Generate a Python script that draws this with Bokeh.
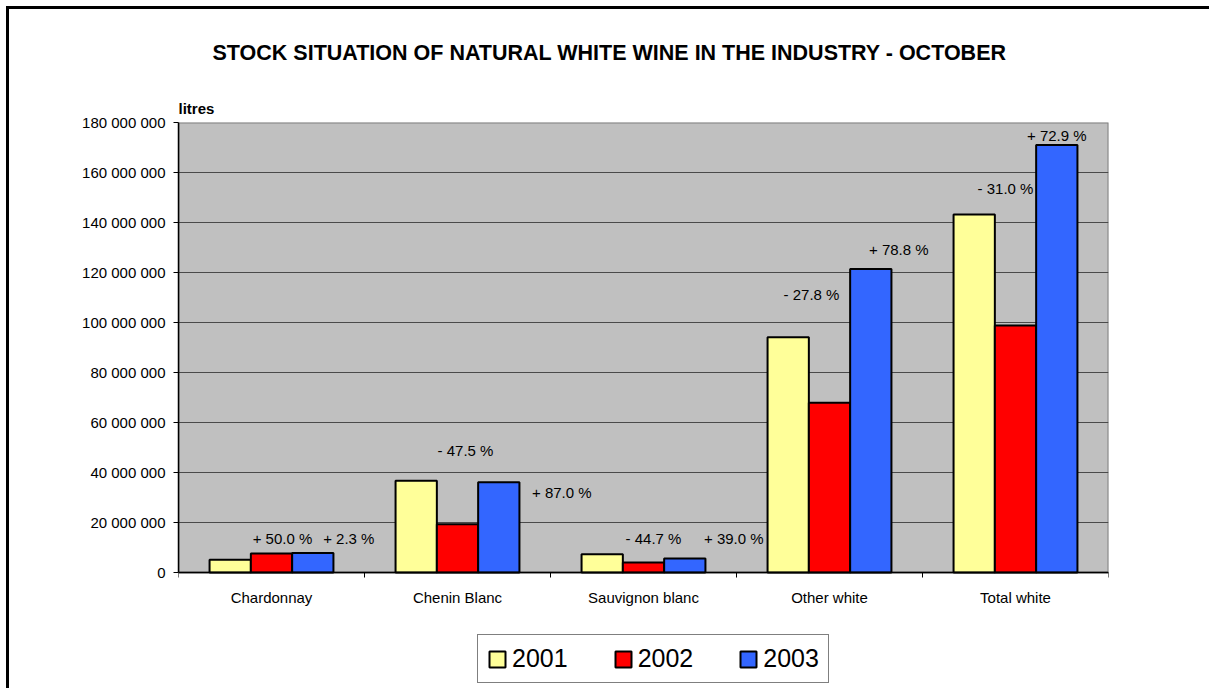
from bokeh.plotting import figure
from bokeh.models import Range1d, FixedTicker, Legend, LegendItem, ColumnDataSource, Title
from bokeh.core.properties import value
from bokeh.embed import file_html
from bokeh.resources import INLINE

# ---- data ----
categories = ["Chardonnay", "Chenin Blanc", "Sauvignon blanc", "Other white", "Total white"]
years = ["2001", "2002", "2003"]
v2001 = [5.1e6, 36.7e6, 7.3e6, 94.1e6, 143.2e6]
v2002 = [7.65e6, 19.3e6, 4.0e6, 67.9e6, 98.8e6]
v2003 = [7.8e6, 36.1e6, 5.6e6, 121.4e6, 171.0e6]
pct_2002 = ["+ 50.0 %", "- 47.5 %", "- 44.7 %", "- 27.8 %", "- 31.0 %"]
pct_2003 = ["+ 2.3 %", "+ 87.0 %", "+ 39.0 %", "+ 78.8 %", "+ 72.9 %"]
y_ticks = [0, 20e6, 40e6, 60e6, 80e6, 100e6, 120e6, 140e6, 160e6, 180e6]
y_tick_labels = ["0", "20 000 000", "40 000 000", "60 000 000", "80 000 000", "100 000 000",
                 "120 000 000", "140 000 000", "160 000 000", "180 000 000"]
y_max = 180e6

# ---- styles / layout ----
colors = ["#FFFF99", "#FF0000", "#3366FF"]
FONT = "Liberation Sans"
bar_w = 0.222
offsets = [-bar_w, 0.0, bar_w]
dx2002 = [11, 8, 10, -18, -10]
dy2002 = [-15, -74, -24, -108, -137]
dx2003 = [36, 63, 49, 28, 0]
dy2003 = [-15, 10, -20, -20, -10]

PLOT_W = 930          # px width of the grey plot area
PLOT_H = 450          # px height of the grey plot area (0 .. y_max)
FRAME_H = 566         # frame extends below the plot area to host axis labels + legend
y_start = y_max - FRAME_H * y_max / PLOT_H

p = figure(frame_width=PLOT_W, frame_height=FRAME_H, output_backend="svg", toolbar_location=None,
           x_range=Range1d(0, len(categories)), y_range=Range1d(y_start, y_max),
           min_border_left=169, min_border_right=101, min_border_top=113, min_border_bottom=0)
p.styles = {"margin-left": "6px", "margin-top": "6px",
            "border-left": "3px solid black", "border-top": "3px solid black",
            "border-right": "2px solid black"}
p.background_fill_color = "white"
p.border_fill_color = "white"
p.outline_line_color = None

# grey plot area
p.quad(left=0, right=len(categories), bottom=0, top=y_max, fill_color="#C0C0C0",
       line_color="#808080", line_width=2, level="image")

centers = [i + 0.5 for i in range(len(categories))]
renderers = []
for k, vals in enumerate([v2001, v2002, v2003]):
    src = ColumnDataSource(dict(x=[c + offsets[k] for c in centers], top=vals))
    r = p.vbar(x="x", top="top", width=bar_w, bottom=0, source=src,
               fill_color=colors[k], line_color="black", line_width=2)
    renderers.append(r)

for vals, txt, dx, dy, k in [(v2002, pct_2002, dx2002, dy2002, 1), (v2003, pct_2003, dx2003, dy2003, 2)]:
    src = ColumnDataSource(dict(x=[c + offsets[k] for c in centers], y=vals, t=txt, dx=dx, dy=dy))
    p.text(x="x", y="y", text="t", x_offset="dx", y_offset="dy", source=src,
           text_font=value(FONT), text_font_size="15px", text_align="center",
           text_baseline="middle", text_color="black")

# axes
p.xgrid.visible = False
p.ygrid.grid_line_color = "#4a4a4a"
p.ygrid.grid_line_width = 1
p.yaxis.ticker = FixedTicker(ticks=y_ticks, minor_ticks=[])
p.yaxis.bounds = (0, y_max)
p.yaxis.major_label_overrides = {t: l for t, l in zip(y_ticks, y_tick_labels)}
p.yaxis.major_label_text_font = FONT
p.yaxis.major_label_text_font_size = "15px"
p.yaxis.major_label_text_color = "black"
p.yaxis.axis_line_color = "black"
p.yaxis.axis_line_width = 1.5
p.yaxis.major_tick_line_color = "black"
p.yaxis.major_tick_in = 0
p.yaxis.major_tick_out = 5
p.yaxis.major_label_standoff = 8

p.xaxis.fixed_location = 0
p.xaxis.ticker = FixedTicker(ticks=centers, minor_ticks=list(range(len(categories) + 1)))
p.xaxis.major_label_overrides = {c: n for c, n in zip(centers, categories)}
p.xaxis.major_label_text_font = FONT
p.xaxis.major_label_text_font_size = "15px"
p.xaxis.major_label_text_color = "black"
p.xaxis.axis_line_color = "black"
p.xaxis.axis_line_width = 1.5
p.xaxis.major_tick_line_color = None
p.xaxis.minor_tick_line_color = "black"
p.xaxis.minor_tick_in = 0
p.xaxis.minor_tick_out = 5
p.xaxis.major_label_standoff = 10

# unit label (closest to frame) and main title above it
p.add_layout(Title(text="litres", align="left", text_font=FONT, text_font_size="15px",
                   text_font_style="bold", text_color="black", standoff=11), "above")
p.title.text = "STOCK SITUATION OF NATURAL WHITE WINE IN THE INDUSTRY - OCTOBER"
p.title.align = "left"
p.title.offset = 34
p.title.text_font = FONT
p.title.text_font_size = "21.5px"
p.title.text_font_style = "bold"
p.title.text_color = "black"
p.title.standoff = 55

legend = Legend(items=[LegendItem(label=years[k], renderers=[renderers[k]]) for k in range(3)],
                orientation="horizontal", location=(299, 5),
                label_text_font=FONT, label_text_font_size="25px", label_text_color="black",
                glyph_width=20, glyph_height=20, label_standoff=5, spacing=45, padding=9,
                border_line_color="black", border_line_width=1, background_fill_color="white",
                background_fill_alpha=1.0, margin=0)
p.add_layout(legend)

open("out.html", "w").write(file_html(p, INLINE))
